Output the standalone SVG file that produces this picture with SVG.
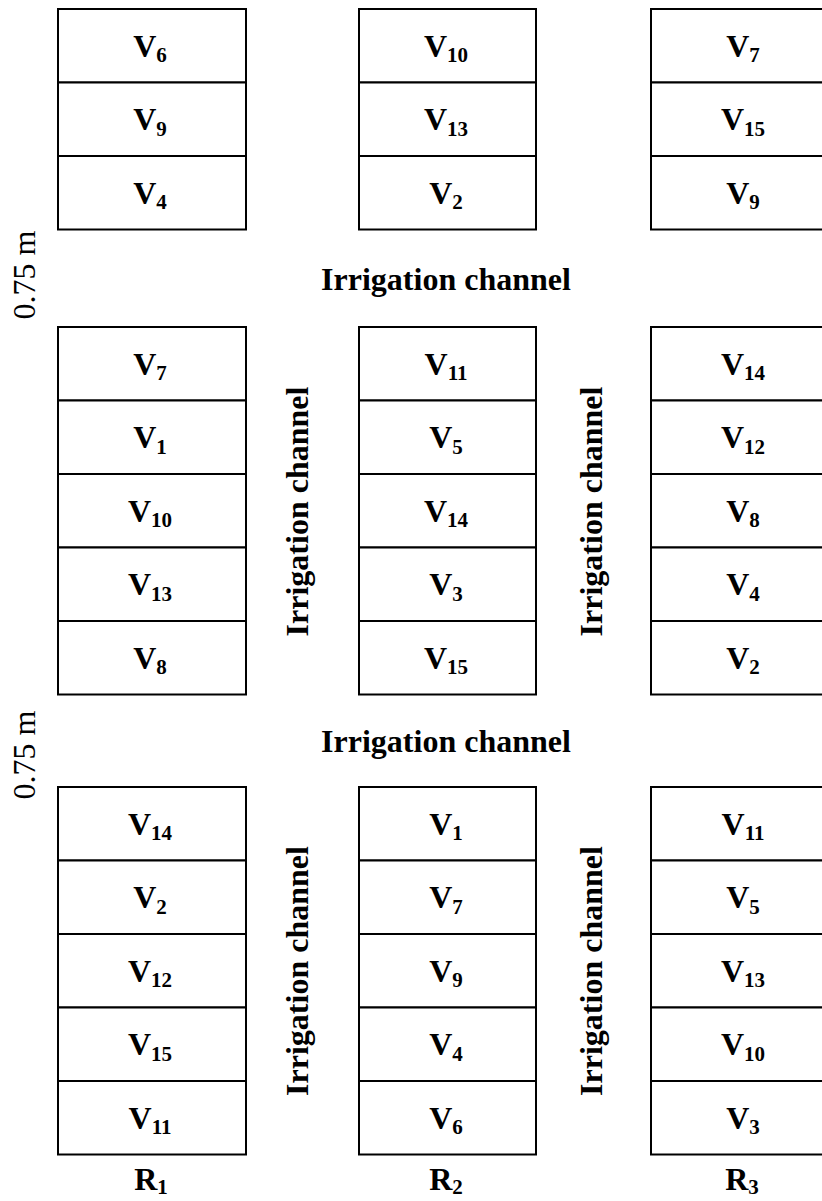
<svg xmlns="http://www.w3.org/2000/svg" width="822" height="1201" viewBox="0 0 822 1201">
<style>
.c rect{fill:#fff;stroke:#000;stroke-width:2}
text{font-family:"Liberation Serif","Times New Roman",serif;fill:#000}
.v{font-size:32px;font-weight:bold;text-anchor:middle}
.s{font-size:21px}
.ch{font-size:32px;font-weight:bold;text-anchor:middle}
.m{font-size:32px;font-weight:normal;text-anchor:middle}
</style>
<rect width="822" height="1201" fill="#fff"/>
<g id="block-top">
<g id="t-c1-r1" class="c"><rect x="58" y="9" width="188" height="73.5"/><text class="v" x="150" y="56.5">V<tspan class="s" dy="5.5">6</tspan></text></g>
<g id="t-c1-r2" class="c"><rect x="58" y="82.5" width="188" height="73.5"/><text class="v" x="150" y="130">V<tspan class="s" dy="5.5">9</tspan></text></g>
<g id="t-c1-r3" class="c"><rect x="58" y="156" width="188" height="73.5"/><text class="v" x="150" y="203.5">V<tspan class="s" dy="5.5">4</tspan></text></g>
<g id="t-c2-r1" class="c"><rect x="359" y="9" width="177" height="73.5"/><text class="v" x="446" y="56.5">V<tspan class="s" dy="5.5">10</tspan></text></g>
<g id="t-c2-r2" class="c"><rect x="359" y="82.5" width="177" height="73.5"/><text class="v" x="446" y="130">V<tspan class="s" dy="5.5">13</tspan></text></g>
<g id="t-c2-r3" class="c"><rect x="359" y="156" width="177" height="73.5"/><text class="v" x="446" y="203.5">V<tspan class="s" dy="5.5">2</tspan></text></g>
<g id="t-c3-r1" class="c"><rect x="651" y="9" width="188" height="73.5"/><text class="v" x="743" y="56.5">V<tspan class="s" dy="5.5">7</tspan></text></g>
<g id="t-c3-r2" class="c"><rect x="651" y="82.5" width="188" height="73.5"/><text class="v" x="743" y="130">V<tspan class="s" dy="5.5">15</tspan></text></g>
<g id="t-c3-r3" class="c"><rect x="651" y="156" width="188" height="73.5"/><text class="v" x="743" y="203.5">V<tspan class="s" dy="5.5">9</tspan></text></g>
</g>
<g id="block-middle">
<g id="m-c1-r1" class="c"><rect x="58" y="327" width="188" height="73.5"/><text class="v" x="150" y="374.5">V<tspan class="s" dy="5.5">7</tspan></text></g>
<g id="m-c1-r2" class="c"><rect x="58" y="400.5" width="188" height="73.5"/><text class="v" x="150" y="448">V<tspan class="s" dy="5.5">1</tspan></text></g>
<g id="m-c1-r3" class="c"><rect x="58" y="474" width="188" height="73.5"/><text class="v" x="150" y="521.5">V<tspan class="s" dy="5.5">10</tspan></text></g>
<g id="m-c1-r4" class="c"><rect x="58" y="547.5" width="188" height="73.5"/><text class="v" x="150" y="595">V<tspan class="s" dy="5.5">13</tspan></text></g>
<g id="m-c1-r5" class="c"><rect x="58" y="621" width="188" height="73.5"/><text class="v" x="150" y="668.5">V<tspan class="s" dy="5.5">8</tspan></text></g>
<g id="m-c2-r1" class="c"><rect x="359" y="327" width="177" height="73.5"/><text class="v" x="446" y="374.5">V<tspan class="s" dy="5.5">11</tspan></text></g>
<g id="m-c2-r2" class="c"><rect x="359" y="400.5" width="177" height="73.5"/><text class="v" x="446" y="448">V<tspan class="s" dy="5.5">5</tspan></text></g>
<g id="m-c2-r3" class="c"><rect x="359" y="474" width="177" height="73.5"/><text class="v" x="446" y="521.5">V<tspan class="s" dy="5.5">14</tspan></text></g>
<g id="m-c2-r4" class="c"><rect x="359" y="547.5" width="177" height="73.5"/><text class="v" x="446" y="595">V<tspan class="s" dy="5.5">3</tspan></text></g>
<g id="m-c2-r5" class="c"><rect x="359" y="621" width="177" height="73.5"/><text class="v" x="446" y="668.5">V<tspan class="s" dy="5.5">15</tspan></text></g>
<g id="m-c3-r1" class="c"><rect x="651" y="327" width="188" height="73.5"/><text class="v" x="743" y="374.5">V<tspan class="s" dy="5.5">14</tspan></text></g>
<g id="m-c3-r2" class="c"><rect x="651" y="400.5" width="188" height="73.5"/><text class="v" x="743" y="448">V<tspan class="s" dy="5.5">12</tspan></text></g>
<g id="m-c3-r3" class="c"><rect x="651" y="474" width="188" height="73.5"/><text class="v" x="743" y="521.5">V<tspan class="s" dy="5.5">8</tspan></text></g>
<g id="m-c3-r4" class="c"><rect x="651" y="547.5" width="188" height="73.5"/><text class="v" x="743" y="595">V<tspan class="s" dy="5.5">4</tspan></text></g>
<g id="m-c3-r5" class="c"><rect x="651" y="621" width="188" height="73.5"/><text class="v" x="743" y="668.5">V<tspan class="s" dy="5.5">2</tspan></text></g>
</g>
<g id="block-bottom">
<g id="b-c1-r1" class="c"><rect x="58" y="787" width="188" height="73.5"/><text class="v" x="150" y="834.5">V<tspan class="s" dy="5.5">14</tspan></text></g>
<g id="b-c1-r2" class="c"><rect x="58" y="860.5" width="188" height="73.5"/><text class="v" x="150" y="908">V<tspan class="s" dy="5.5">2</tspan></text></g>
<g id="b-c1-r3" class="c"><rect x="58" y="934" width="188" height="73.5"/><text class="v" x="150" y="981.5">V<tspan class="s" dy="5.5">12</tspan></text></g>
<g id="b-c1-r4" class="c"><rect x="58" y="1007.5" width="188" height="73.5"/><text class="v" x="150" y="1055">V<tspan class="s" dy="5.5">15</tspan></text></g>
<g id="b-c1-r5" class="c"><rect x="58" y="1081" width="188" height="73.5"/><text class="v" x="150" y="1128.5">V<tspan class="s" dy="5.5">11</tspan></text></g>
<g id="b-c2-r1" class="c"><rect x="359" y="787" width="177" height="73.5"/><text class="v" x="446" y="834.5">V<tspan class="s" dy="5.5">1</tspan></text></g>
<g id="b-c2-r2" class="c"><rect x="359" y="860.5" width="177" height="73.5"/><text class="v" x="446" y="908">V<tspan class="s" dy="5.5">7</tspan></text></g>
<g id="b-c2-r3" class="c"><rect x="359" y="934" width="177" height="73.5"/><text class="v" x="446" y="981.5">V<tspan class="s" dy="5.5">9</tspan></text></g>
<g id="b-c2-r4" class="c"><rect x="359" y="1007.5" width="177" height="73.5"/><text class="v" x="446" y="1055">V<tspan class="s" dy="5.5">4</tspan></text></g>
<g id="b-c2-r5" class="c"><rect x="359" y="1081" width="177" height="73.5"/><text class="v" x="446" y="1128.5">V<tspan class="s" dy="5.5">6</tspan></text></g>
<g id="b-c3-r1" class="c"><rect x="651" y="787" width="188" height="73.5"/><text class="v" x="743" y="834.5">V<tspan class="s" dy="5.5">11</tspan></text></g>
<g id="b-c3-r2" class="c"><rect x="651" y="860.5" width="188" height="73.5"/><text class="v" x="743" y="908">V<tspan class="s" dy="5.5">5</tspan></text></g>
<g id="b-c3-r3" class="c"><rect x="651" y="934" width="188" height="73.5"/><text class="v" x="743" y="981.5">V<tspan class="s" dy="5.5">13</tspan></text></g>
<g id="b-c3-r4" class="c"><rect x="651" y="1007.5" width="188" height="73.5"/><text class="v" x="743" y="1055">V<tspan class="s" dy="5.5">10</tspan></text></g>
<g id="b-c3-r5" class="c"><rect x="651" y="1081" width="188" height="73.5"/><text class="v" x="743" y="1128.5">V<tspan class="s" dy="5.5">3</tspan></text></g>
</g>
<g id="channels">
<text class="ch" x="446" y="290">Irrigation channel</text>
<text class="ch" x="446" y="752">Irrigation channel</text>
<text class="ch" transform="translate(308,511.5) rotate(-90)">Irrigation channel</text>
<text class="ch" transform="translate(601.5,511.5) rotate(-90)">Irrigation channel</text>
<text class="ch" transform="translate(308,971) rotate(-90)">Irrigation channel</text>
<text class="ch" transform="translate(601.5,971) rotate(-90)">Irrigation channel</text>
</g>
<g id="dimensions">
<text class="m" transform="translate(34.5,275) rotate(-90)">0.75 m</text>
<text class="m" transform="translate(34.5,755) rotate(-90)">0.75 m</text>
</g>
<g id="replications">
<text class="v" x="151" y="1190">R<tspan class="s" dy="4">1</tspan></text>
<text class="v" x="446" y="1190">R<tspan class="s" dy="4">2</tspan></text>
<text class="v" x="742" y="1190">R<tspan class="s" dy="4">3</tspan></text>
</g>
</svg>
